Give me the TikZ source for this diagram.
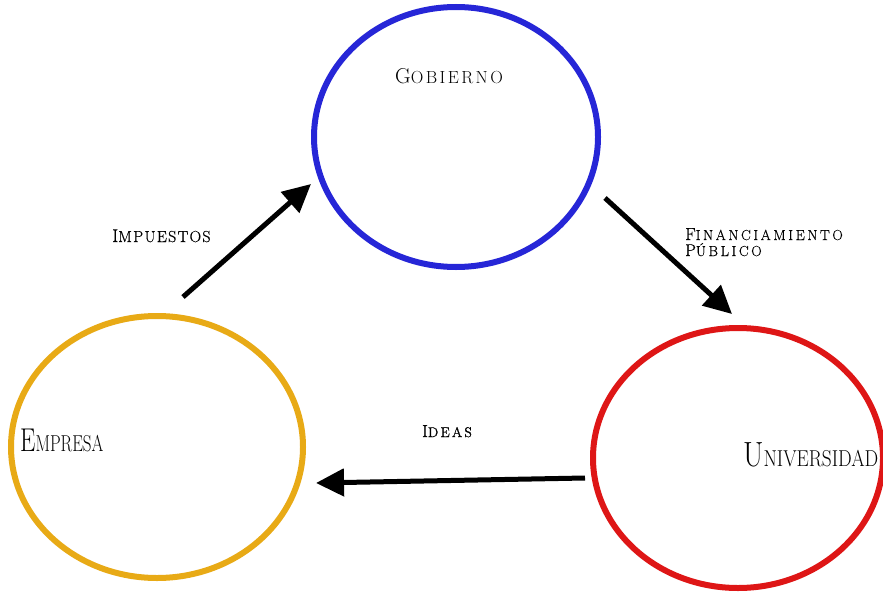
\documentclass[tikz,border=0pt]{standalone}
\usepackage{fontspec}
\setmainfont{Latin Modern Roman}
\usetikzlibrary{arrows.meta}
\definecolor{cblue}{RGB}{38,38,215}
\definecolor{corange}{RGB}{232,170,22}
\definecolor{cred}{RGB}{222,22,22}
\newcommand\tcap[5]{{\addfontfeature{LetterSpace=#5}\fontsize{#3}{#3}\selectfont #1\fontsize{#4}{#4}\selectfont #2}}
\newcommand\tcapb[5]{{\addfontfeature{LetterSpace=#5,FakeBold=0.6}\fontsize{#3}{#3}\selectfont #1\fontsize{#4}{#4}\selectfont #2}}
\begin{document}
\begin{tikzpicture}[x=1pt,y=-1pt,
  ring/.style={line width=6pt},
  conn/.style={line width=5pt,-{Triangle[length=28pt,width=27pt]}},
  lbl/.style={inner sep=0pt,anchor=base west}]
\useasboundingbox (0,0) rectangle (883,594);
\draw[cblue,ring] (456,137) ellipse [x radius=142, y radius=130];
\node[inner sep=0pt] (gob) at (456,137) {};
\draw[corange,ring] (157,447) ellipse [x radius=146, y radius=131];
\node[inner sep=0pt] (emp) at (157,447) {};
\draw[cred,ring] (738,458) ellipse [x radius=145, y radius=130];
\node[inner sep=0pt] (uni) at (738,458) {};
\node[lbl] (tgob) at (395,83) {\tcap{G}{OBIERNO}{21.5}{17.5}{14}};
\node[lbl] (timp) at (112,242) {\tcapb{I}{MPUESTOS}{18.5}{16}{8}};
\node[lbl] (tfin) at (685,240) {\tcapb{F}{INANCIAMIENTO}{17.5}{14.5}{18}};
\node[lbl] (tpub) at (685,256) {\tcapb{P}{ÚBLICO}{17}{14.5}{18}};
\node[lbl] (temp) at (20,451) {\scalebox{0.74}[1]{\tcap{E}{MPRESA}{33}{23}{0}}};
\node[lbl] (tuni) at (743,466) {\scalebox{0.84}[1]{\tcap{U}{NIVERSIDAD}{35}{23}{0}}};
\node[lbl] (tide) at (422,437) {\tcapb{I}{DEAS}{17.5}{14}{15}};
\coordinate (a1) at (183,297);
\coordinate (a2) at (311,184);
\coordinate (b1) at (605,198);
\coordinate (b2) at (732,314);
\coordinate (c1) at (585,478);
\coordinate (c2) at (316,483);
\draw[conn] (a1) -- (a2);
\draw[conn] (b1) -- (b2);
\draw[conn] (c1) -- (c2);
\end{tikzpicture}
\end{document}
